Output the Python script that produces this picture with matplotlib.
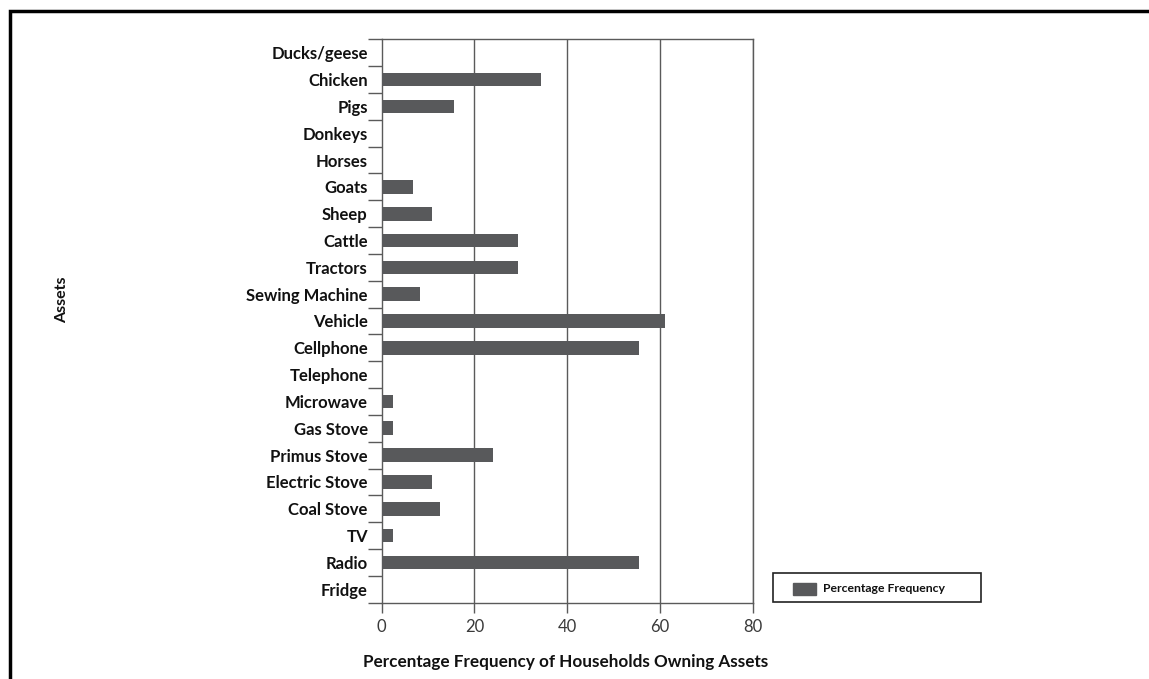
import matplotlib.pyplot as plt
import matplotlib.patches as mpatches
import numpy as np

assets = ["Ducks/geese", "Chicken", "Pigs", "Donkeys", "Horses", "Goats", "Sheep",
          "Cattle", "Tractors", "Sewing Machine", "Vehicle", "Cellphone", "Telephone",
          "Microwave", "Gas Stove", "Primus Stove", "Electric Stove", "Coal Stove",
          "TV", "Radio", "Fridge"]
pct = [0, 34.3, 15.5, 0, 0, 6.8, 10.8, 29.4, 29.4, 8.2, 61.1, 55.5, 0,
       2.4, 2.4, 23.9, 10.8, 12.5, 2.4, 55.5, 0]
xticks = [0, 20, 40, 60, 80]
series_name = "Percentage Frequency"

plt.rcParams['font.family'] = ['Lato', 'DejaVu Sans']
bar_color = '#58595b'
line_color = '#5a5a5a'
W, H = 1149, 679

fig = plt.figure(figsize=(W / 100, H / 100), dpi=100)
ax = fig.add_axes([0.3322, 0.1124, 0.3229, 0.8297])

y = np.arange(len(assets))
ax.barh(y, pct, height=0.51, color=bar_color, label=series_name, zorder=3)
ax.set_ylim(len(assets) - 0.5, -0.5)
ax.set_xlim(0, 80)

# ticks at category boundaries, labels in the middle
ax.set_yticks(np.arange(-0.5, len(assets), 1))
ax.set_yticklabels([])
ax.set_yticks(y, minor=True)
ax.set_yticklabels(assets, minor=True, fontsize=12, fontweight='bold', color='#111111')
ax.tick_params(axis='y', which='major', length=10, width=1, color=line_color, direction='out')
ax.tick_params(axis='y', which='minor', length=0, pad=10)

ax.set_xticks(xticks)
ax.set_xticklabels([str(t) for t in xticks], fontsize=12, color='#3a3a3a')
ax.tick_params(axis='x', length=7, width=1, color=line_color, pad=5)

for t in xticks[1:]:
    ax.axvline(t, color=line_color, lw=1, zorder=1)
for s in ax.spines.values():
    s.set_color(line_color)
    s.set_linewidth(1)

fig.text(0.054, 0.558, "Assets", rotation=90, ha='center', va='center',
         fontsize=11.5, fontweight='bold', color='#111111')
fig.text(0.4925, 0.025, "Percentage Frequency of Households Owning Assets",
         ha='center', va='center', fontsize=12.3, fontweight='bold', color='#111111')

# legend box drawn in pixel positions of the figure
box = mpatches.Rectangle((773 / W, 1 - 602 / H), 208 / W, 29 / H,
                         transform=fig.transFigure, fill=False,
                         edgecolor='#222222', linewidth=1.2)
swatch = mpatches.Rectangle((793 / W, 1 - 595 / H), 23 / W, 12 / H,
                            transform=fig.transFigure, color=bar_color)
fig.patches.extend([box, swatch])
fig.text(823 / W, 1 - 588 / H, series_name, ha='left', va='center',
         fontsize=8.8, fontweight='bold', color='#111111')

# outer frame of the figure panel
frame = mpatches.Rectangle((10 / W, -0.1), 1.2, 1 - 11 / H + 0.1,
                           transform=fig.transFigure, fill=False,
                           edgecolor='black', linewidth=2.5, clip_on=False)
fig.patches.append(frame)

fig.savefig("out.png", dpi=100)
